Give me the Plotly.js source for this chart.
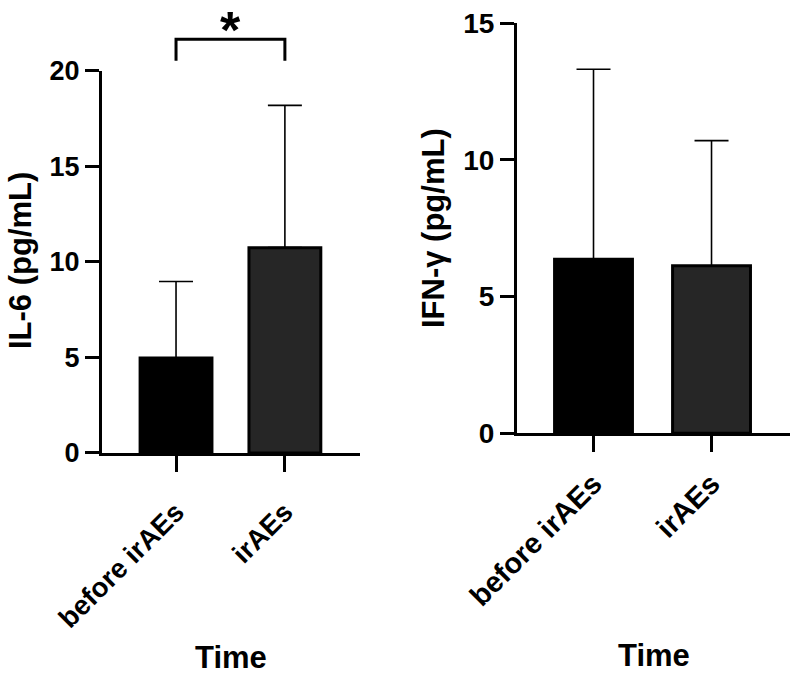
<!DOCTYPE html>
<html>
<head>
<meta charset="utf-8">
<script src="https://cdn.plot.ly/plotly-3.0.1.min.js"></script>
<style>html,body{margin:0;padding:0;background:#fff;}#chart{width:800px;height:674px;}</style>
</head>
<body>
<div id="chart"></div>
<script>
// ---- data ----
const categories = ["before irAEs", "irAEs"];
const il6Mean = [4.97, 10.75];
const il6SD = [4.01, 7.45];
const ifngMean = [6.37, 6.13];
const ifngSD = [6.95, 4.58];
const lowerErr = [0, 0];
const il6Ticks = [0, 5, 10, 15, 20];
const ifngTicks = [0, 5, 10, 15];
const sigLabel = "*";

const FONT = "Liberation Sans, Arial, Helvetica, sans-serif";
const barColors = ["#000000", "#262626"];

function barTrace(y, sd, xa, ya) {
  return {
    type: "bar", x: categories, y: y, xaxis: xa, yaxis: ya,
    marker: { color: barColors, line: { color: "#000", width: 3 } },
    error_y: { type: "data", symmetric: false, array: sd, arrayminus: lowerErr,
               color: "#000", thickness: 1.6, width: 17 },
    showlegend: false, hoverinfo: "skip"
  };
}

const data = [
  barTrace(il6Mean, il6SD, "x", "y"),
  barTrace(ifngMean, ifngSD, "x2", "y2")
];

const axCommon = {
  showline: true, linewidth: 3, linecolor: "#000", showgrid: false, zeroline: false,
  ticks: "outside", tickwidth: 3, tickcolor: "#000", fixedrange: true, automargin: false
};

const layout = {
  width: 800, height: 674,
  margin: { l: 0, r: 0, t: 0, b: 0 },
  paper_bgcolor: "#fff", plot_bgcolor: "#fff",
  bargap: 0.34,
  font: { family: FONT, color: "#000" },
  xaxis: Object.assign({}, axCommon, {
    domain: [0.1275, 0.45], range: [-0.68, 1.69], anchor: "y",
    type: "category", ticklen: 16, tickangle: -45, ticklabelstandoff: 13,
    tickfont: { family: FONT, size: 27.5, weight: "bold", color: "#000" }
  }),
  yaxis: Object.assign({}, axCommon, {
    domain: [0.3279, 0.8947], range: [0, 20], anchor: "x",
    tickvals: il6Ticks, ticklen: 14,
    tickfont: { family: FONT, size: 27, weight: "bold", color: "#000" }
  }),
  xaxis2: Object.assign({}, axCommon, {
    domain: [0.6463, 0.9875], range: [-0.648, 1.665], anchor: "y2",
    type: "category", ticklen: 16, tickangle: -45, ticklabelstandoff: 3,
    tickfont: { family: FONT, size: 29, weight: "bold", color: "#000" }
  }),
  yaxis2: Object.assign({}, axCommon, {
    domain: [0.3571, 0.9654], range: [0, 15], anchor: "x2",
    tickvals: ifngTicks, ticklen: 14,
    tickfont: { family: FONT, size: 28, weight: "bold", color: "#000" }
  }),
  shapes: [
    { type: "path", xref: "x", yref: "paper",
      path: "M 0 0.91 L 0 0.9417 L 1 0.9417 L 1 0.91",
      line: { color: "#000", width: 3 } }
  ],
  annotations: [
    { text: sigLabel, xref: "x", x: 0.5, yref: "paper", y: 1, yanchor: "top", borderpad: 0,
      showarrow: false, font: { family: FONT, size: 52, weight: "bold", color: "#000" } },
    { text: "IL-6 (pg/mL)", xref: "paper", x: 20/800, yref: "paper", y: 1 - 261/674,
      textangle: -90, showarrow: false, xanchor: "center", yanchor: "middle",
      font: { family: FONT, size: 31, weight: "bold", color: "#000" } },
    { text: "IFN-γ (pg/mL)", xref: "paper", x: 433/800, yref: "paper", y: 1 - 228/674,
      textangle: -90, showarrow: false, xanchor: "center", yanchor: "middle",
      font: { family: FONT, size: 31, weight: "bold", color: "#000" } },
    { text: "Time", xref: "x domain", x: 0.5, yref: "paper", y: 1 - 657/674,
      showarrow: false, xanchor: "center", yanchor: "middle",
      font: { family: FONT, size: 31, weight: "bold", color: "#000" } },
    { text: "Time", xref: "x2 domain", x: 0.5, yref: "paper", y: 1 - 655/674,
      showarrow: false, xanchor: "center", yanchor: "middle",
      font: { family: FONT, size: 31, weight: "bold", color: "#000" } }
  ]
};

Plotly.newPlot("chart", data, layout, { staticPlot: true, displayModeBar: false });
</script>
</body>
</html>
